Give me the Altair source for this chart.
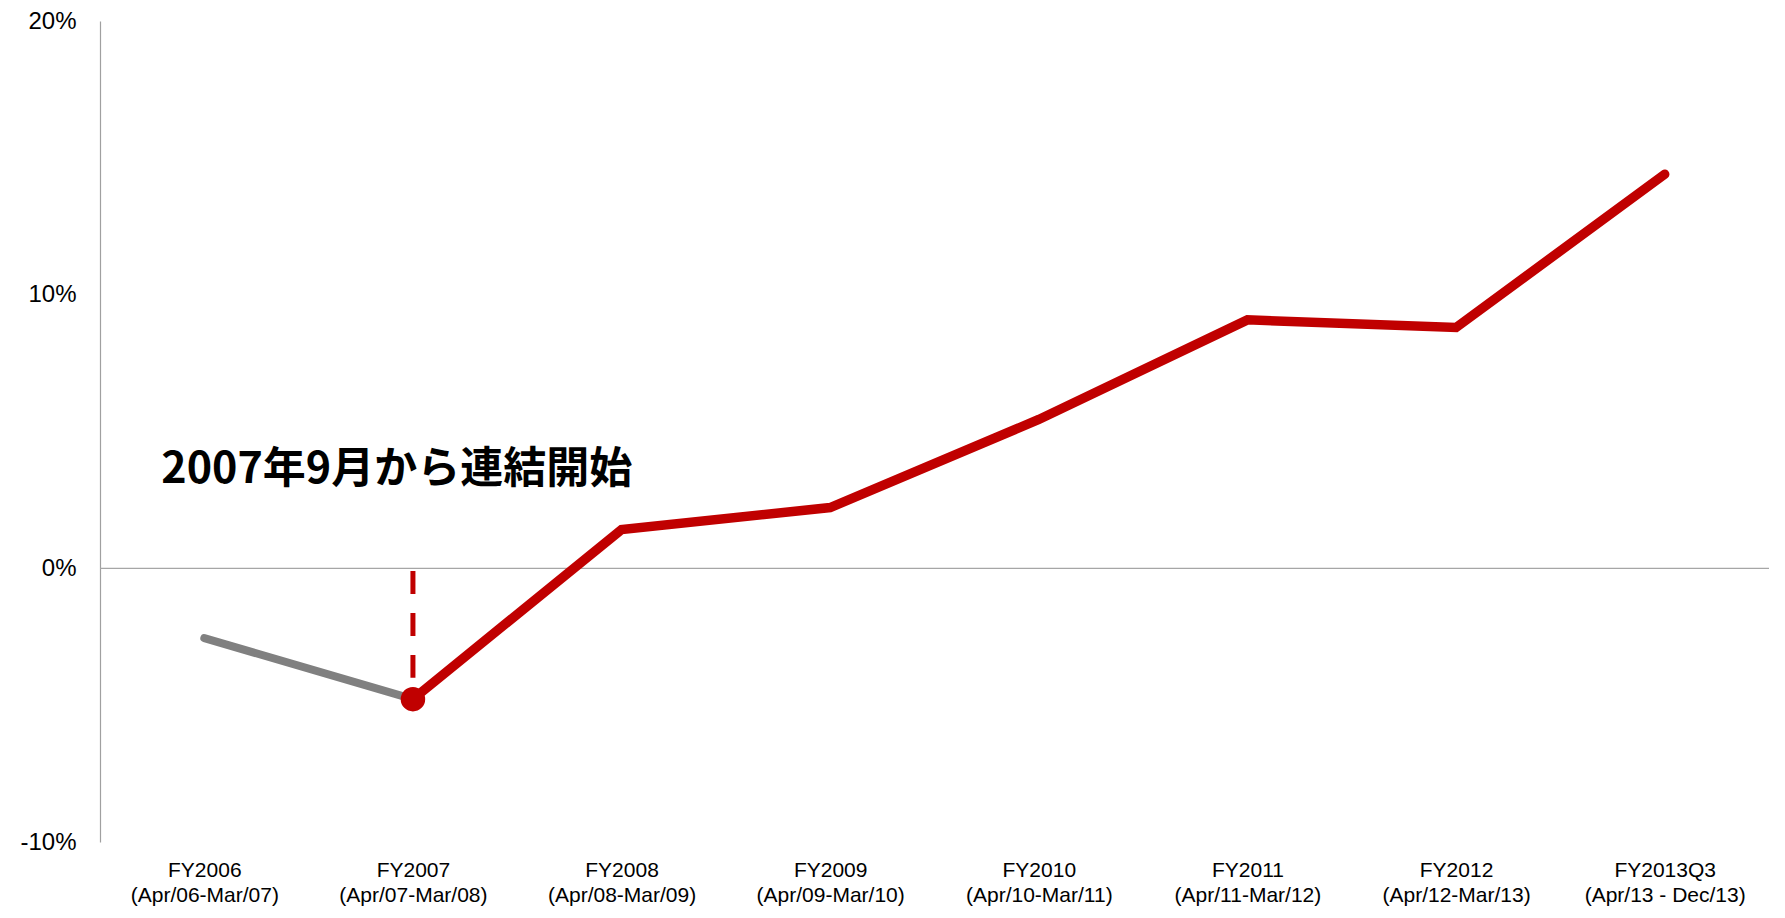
import altair as alt
import pandas as pd

fiscal_years = ["FY2006", "FY2007", "FY2008", "FY2009", "FY2010", "FY2011", "FY2012", "FY2013Q3"]
periods = ["(Apr/06-Mar/07)", "(Apr/07-Mar/08)", "(Apr/08-Mar/09)", "(Apr/09-Mar/10)",
           "(Apr/10-Mar/11)", "(Apr/11-Mar/12)", "(Apr/12-Mar/13)", "(Apr/13 - Dec/13)"]
values = [-2.55, -4.78, 1.42, 2.22, 5.44, 9.08, 8.8, 14.4]
# series: before / after consolidation (FY2007 belongs to both, it joins the segments)
gray_years = ["FY2006", "FY2007"]
red_years = ["FY2007", "FY2008", "FY2009", "FY2010", "FY2011", "FY2012", "FY2013Q3"]
consolidation_year = "FY2007"
dash_top, dash_bottom = -0.1, -4.0
annotation = "2007年9月から連結開始"
annotation_value = 3.1

labels = [f"{fy}\n{p}" for fy, p in zip(fiscal_years, periods)]
label_of = dict(zip(fiscal_years, labels))
val_of = dict(zip(fiscal_years, values))

gray_df = pd.DataFrame({"label": [label_of[y] for y in gray_years], "v": [val_of[y] for y in gray_years]})
red_df = pd.DataFrame({"label": [label_of[y] for y in red_years], "v": [val_of[y] for y in red_years]})
dot_df = pd.DataFrame({"label": [label_of[consolidation_year]], "v": [val_of[consolidation_year]]})
dash_df = pd.DataFrame({"label": [label_of[consolidation_year]], "v": [dash_top], "v2": [dash_bottom]})
text_df = pd.DataFrame({"label": [labels[0]], "v": [annotation_value], "t": [annotation]})
zero_df = pd.DataFrame({"v": [0.0]})

x_axis = alt.Axis(title=None, labelExpr="split(datum.label, '\\n')", labelAngle=0,
                  domain=False, ticks=False, tickSize=0, labelPadding=17,
                  labelFont="Liberation Sans", labelFontSize=21, labelLineHeight=25,
                  labelColor="#000000", labelBaseline="top")
x_enc = alt.X("label:N", sort=labels, scale=alt.Scale(type="point", padding=0.5, domain=labels),
              axis=x_axis)
y_scale = alt.Scale(domain=[-10, 20], nice=False, zero=False)
y_axis = alt.Axis(title=None, values=[-10, 0, 10, 20], labelExpr="datum.value + '%'",
                  grid=False, ticks=False, tickSize=0, labelPadding=24,
                  domainColor="#A0A0A0", domainWidth=1.2,
                  labelFont="Liberation Sans", labelFontSize=24, labelColor="#000000")
y_enc = alt.Y("v:Q", scale=y_scale, axis=y_axis)

zero = alt.Chart(zero_df).mark_rule(color="#A6A6A6", strokeWidth=1.2).encode(y=y_enc)

gray_line = alt.Chart(gray_df).mark_line(color="#808080", strokeWidth=8, strokeCap="round").encode(
    x=x_enc, y=y_enc)
red_line = alt.Chart(red_df).mark_line(color="#C00000", strokeWidth=9.5, strokeCap="round",
                                       strokeJoin="miter").encode(x=x_enc, y=y_enc)
dash = alt.Chart(dash_df).mark_rule(color="#C00000", strokeWidth=5, strokeDash=[23, 19]).encode(
    x=x_enc, y=y_enc, y2="v2:Q")
dot = alt.Chart(dot_df).mark_point(filled=True, color="#C00000", size=600, opacity=1).encode(
    x=x_enc, y=y_enc)
text = alt.Chart(text_df).mark_text(font="Noto Sans CJK JP", fontSize=43, fontWeight="bold",
                                    align="left", baseline="alphabetic", dx=-43, color="#000000").encode(
    x=x_enc, y=y_enc, text="t:N")

chart = alt.layer(zero, gray_line, red_line, dash, dot, text).properties(
    width=1669, height=821,
    background="white",
    autosize=alt.AutoSizeParams(type="none"),
    padding={"left": 92, "top": 13, "right": 4, "bottom": 66},
).configure_view(strokeWidth=0, stroke="transparent")

chart.save("out.html", embed_options={"renderer": "svg", "actions": False})
